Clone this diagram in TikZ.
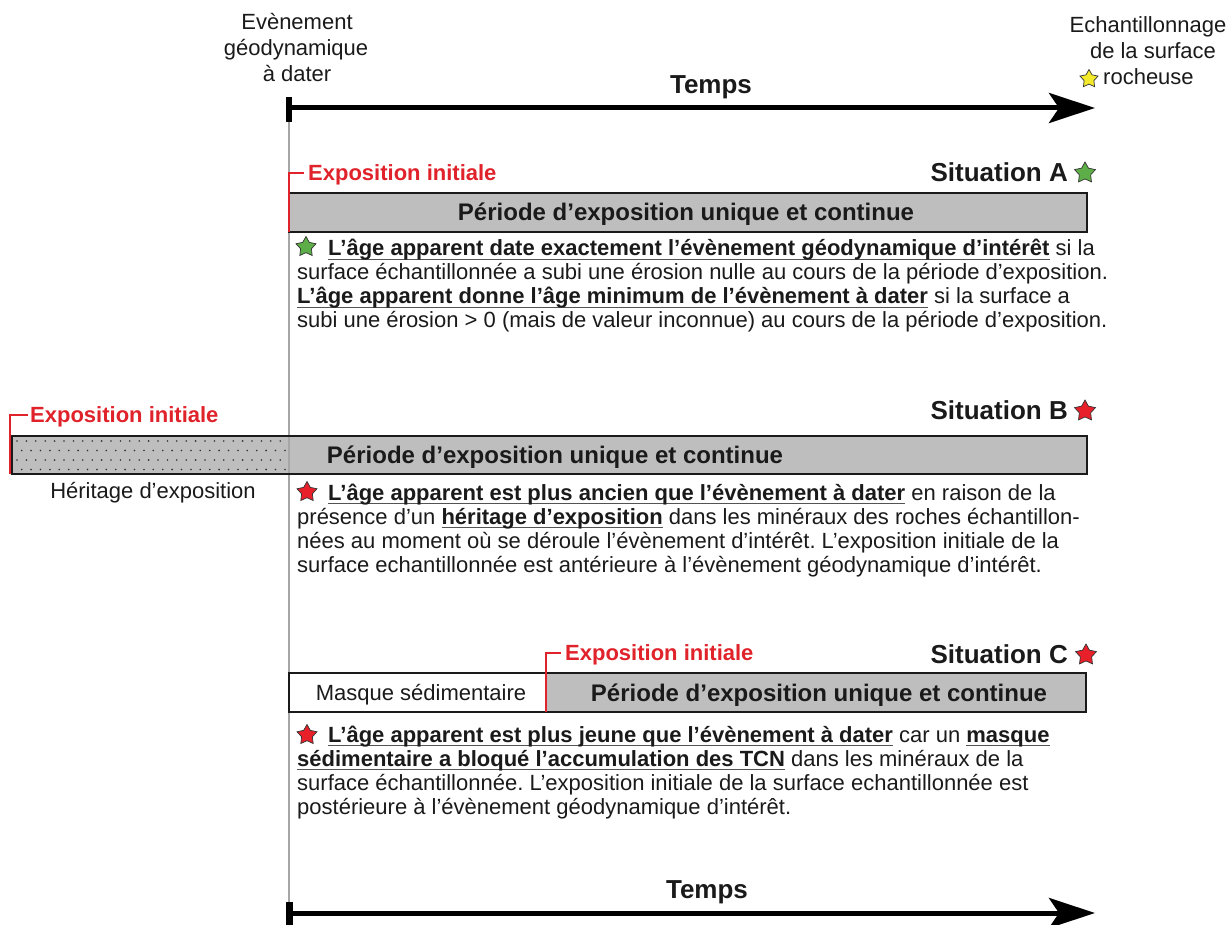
\documentclass[tikz,border=0pt]{standalone}
\usepackage{fontspec}
\setmainfont{Liberation Sans}
\usetikzlibrary{arrows.meta,shapes.geometric}
\definecolor{boxgray}{HTML}{BEBEBE}
\definecolor{redtxt}{HTML}{E0222B}
\definecolor{stargreen}{HTML}{5DAE48}
\definecolor{starred}{HTML}{E8202A}
\definecolor{staryellow}{HTML}{F4EA2C}
\definecolor{txt}{HTML}{1A1A1A}
\newsavebox\ulbox
\newcommand\ulb[1]{\sbox\ulbox{\bfseries #1}\rlap{\color{txt!75}\rule[-4.2pt]{\wd\ulbox}{1.3pt}}\usebox\ulbox}
\frenchspacing
\begin{document}
\begin{tikzpicture}[x=1pt,y=-1pt,
  body/.style={anchor=base west, inner sep=0pt, font=\fontsize{22}{24}\selectfont, text=txt},
  head/.style={anchor=base, inner sep=0pt, font=\fontsize{22}{24}\selectfont, text=txt},
  sitlabel/.style={anchor=base east, inner sep=0pt, font=\bfseries\fontsize{26}{28}\selectfont, text=txt},
  timelabel/.style={anchor=base, inner sep=0pt, font=\bfseries\fontsize{26}{28}\selectfont, text=txt},
  periode/.style={anchor=base, inner sep=0pt, font=\bfseries\fontsize{24}{26}\selectfont, text=txt},
  expo/.style={anchor=base west, inner sep=0pt, font=\bfseries\fontsize{22}{24}\selectfont, text=redtxt},
  redline/.style={draw=redtxt, line width=1.8pt},
  bar/.style={draw=txt, line width=1.8pt, fill=boxgray},
  starbase/.style={star, star points=5, star point ratio=1.85, minimum size=22pt, inner sep=0pt, draw=black!80, line width=0.7pt},
  gstar/.style={starbase, fill=stargreen},
  rstar/.style={starbase, fill=starred},
  ystar/.style={starbase, fill=staryellow, minimum size=19pt},
  timearrow/.style={draw=black, line width=5pt, -{Stealth[length=46pt,width=30pt,inset=10pt]}}
]
\useasboundingbox (0,0) rectangle (1232,925);

% ---------- vertical reference line ----------
\coordinate (vtop) at (289,122);
\coordinate (vbot) at (289,902);
\draw[gray!70, line width=1.5pt] (vtop) -- (vbot);

% ---------- top time axis ----------
\coordinate (tas) at (289,108);
\coordinate (tae) at (1095,108);
\draw[timearrow] (tas) -- (tae);
\fill[black] (286,97) rectangle (292,122);
\node[timelabel] (temps1) at (711,94) {Temps};

\node[head] (ev1) at (297,30) {Evènement};
\node[head] (ev2) at (296,56) {géodynamique};
\node[head] (ev3) at (297,82) {à dater};

\node[head] (ech1) at (1148,33) {Echantillonnage};
\node[head] (ech2) at (1153,59) {de la surface};
\node[body] (ech3) at (1103,85) {rocheuse};
\node[ystar] (ystar) at (1089,79) {};

% ---------- Situation A ----------
\node[sitlabel] (sitA) at (1068,182) {Situation A};
\node[gstar] (starA) at (1085,173) {};
\path[bar] (289,193) rectangle (1087,232);
\node[periode] (perA) at (686,221) {Période d’exposition unique et continue};
\draw[redline] (304,173) -- (289,173) -- (289,232);
\node[expo] (expoA) at (308,181) {Exposition initiale};

\node[gstar, minimum size=21pt] (starA2) at (306,247) {};
\node[body] (a1) at (328,256) {\ulb{L’âge apparent date exactement l’évènement géodynamique d’intérêt} si la};
\node[body] (a2) at (297,280) {surface échantillonnée a subi une érosion nulle au cours de la période d’exposition.};
\node[body] (a3) at (297,304) {\ulb{L’âge apparent donne l’âge minimum de l’évènement à dater} si la surface a};
\node[body] (a4) at (297,328) {subi une érosion > 0 (mais de valeur inconnue) au cours de la période d’exposition.};

% ---------- Situation B ----------
\node[sitlabel] (sitB) at (1068,419) {Situation B};
\node[rstar] (starB) at (1085,411) {};
\path[bar] (12,436) rectangle (1087,474);
\foreach \r in {0,...,3}
  \foreach \c in {0,...,28}
    \fill[black!80] ({17+\c*9.4+mod(\r,2)*4.7},{441+\r*9.5}) circle (0.9);
\draw[gray!70, line width=1.5pt] (289,437) -- (289,473);
\node[periode] (perB) at (555,463) {Période d’exposition unique et continue};
\draw[redline] (28,415) -- (10,415) -- (10,474);
\node[expo] (expoB) at (30,422) {Exposition initiale};
\node[head] (herit) at (153,498) {Héritage d’exposition};

\node[rstar, minimum size=21pt] (starB2) at (307,492) {};
\node[body] (b1) at (328,500) {\ulb{L’âge apparent est plus ancien que l’évènement à dater} en raison de la};
\node[body] (b2) at (297,524) {présence d’un \ulb{héritage d’exposition} dans les minéraux des roches échantillon-};
\node[body] (b3) at (297,548) {nées au moment où se déroule l’évènement d’intérêt. L’exposition initiale de la};
\node[body] (b4) at (297,572) {surface echantillonnée est antérieure à l’évènement géodynamique d’intérêt.};

% ---------- Situation C ----------
\node[sitlabel] (sitC) at (1068,663) {Situation C};
\node[rstar] (starC) at (1086,655) {};
\fill[boxgray] (546,673) rectangle (1086,712);
\draw[txt, line width=1.8pt] (289,673) rectangle (1086,712);
\node[head] (masque) at (421,700) {Masque sédimentaire};
\node[periode] (perC) at (819,701) {Période d’exposition unique et continue};
\draw[redline] (561,653) -- (546,653) -- (546,712);
\node[expo] (expoC) at (565,660) {Exposition initiale};

\node[rstar, minimum size=21pt] (starC2) at (307,735) {};
\node[body] (c1) at (328,742) {\ulb{L’âge apparent est plus jeune que l’évènement à dater} car un \ulb{masque}};
\node[body] (c2) at (297,766) {\ulb{sédimentaire a bloqué l’accumulation des TCN} dans les minéraux de la};
\node[body] (c3) at (297,790) {surface échantillonnée. L’exposition initiale de la surface echantillonnée est};
\node[body] (c4) at (297,814) {postérieure à l’évènement géodynamique d’intérêt.};

% ---------- bottom time axis ----------
\coordinate (tbs) at (289,913);
\coordinate (tbe) at (1095,913);
\draw[timearrow] (tbs) -- (tbe);
\fill[black] (286,902) rectangle (293,925);
\node[timelabel] (temps2) at (707,898) {Temps};
\end{tikzpicture}
\end{document}
